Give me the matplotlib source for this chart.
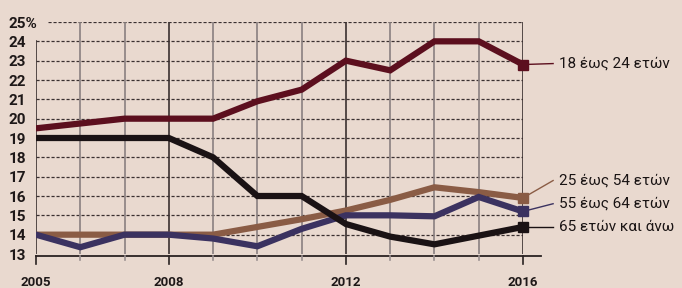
import matplotlib
matplotlib.use("Agg")
import matplotlib.pyplot as plt

years = list(range(2005, 2017))
s18_24 = [19.5, 19.75, 20.0, 20.0, 20.0, 20.9, 21.5, 23.0, 22.5, 24.0, 24.0, 22.8]
s25_54 = [14.0, 14.0, 14.0, 14.0, 14.0, 14.4, 14.8, 15.25, 15.8, 16.45, 16.2, 15.9]
s55_64 = [14.0, 13.35, 14.0, 14.0, 13.8, 13.4, 14.3, 15.0, 15.0, 14.95, 15.95, 15.2]
s65 = [19.0, 19.0, 19.0, 19.0, 18.0, 16.0, 16.0, 14.55, 13.9, 13.5, 13.95, 14.4]
series_labels = ["18 έως 24 ετών", "25 έως 54 ετών", "55 έως 64 ετών", "65 ετών και άνω"]
ytick_vals = list(range(13, 26))
ytick_labels = [str(v) for v in range(13, 25)] + ["25%"]
xtick_vals = [2005, 2008, 2012, 2016]
xtick_labels = ["2005", "2008", "2012", "2016"]

W, H = 682, 288
bg = "#e9d9cf"
fig = plt.figure(figsize=(W / 100, H / 100), dpi=100, facecolor=bg)
L, R, T, B = 36, 523, 22, 254
ax = fig.add_axes([L / W, 1 - B / H, (R - L) / W, (B - T) / H])
ax.set_facecolor(bg)
ax.set_xlim(2005, 2016)
ax.set_ylim(13, 25)
for s in ax.spines.values():
    s.set_visible(False)

fam = ["Roboto", "DejaVu Sans"]

# horizontal dashed grid
for v in ytick_vals[1:]:
    x0 = 2005.27 if v == 25 else 2005
    ax.plot([x0, 2016], [v, v], color="#3a3030", lw=0.9, ls=(0, (2.5, 1.5)), zorder=1)
# vertical grid
for y in years:
    top = 24 if y == 2005 else 25
    c = "#3a3030" if y in xtick_vals else "#8a8080"
    ax.plot([y, y], [12.9, top], color=c, lw=1.2, zorder=1)
# bottom axis line
ax.plot([2005, 2016.4], [12.9, 12.9], color="#2a2222", lw=1.3, zorder=2, clip_on=False)
for y in years:
    ext = 12.5 if y in xtick_vals else 12.7
    ax.plot([y, y], [12.9, ext], color="#2a2222" if y in xtick_vals else "#9a9090", lw=1.2, clip_on=False)

c18 = "#5c0f1e"
c25 = "#8a5c45"
c55 = "#3b3260"
c65 = "#1a1214"
lw = 4.5
ax.plot(years, s25_54, color=c25, lw=lw, zorder=3, solid_joinstyle="miter")
ax.plot(years, s55_64, color=c55, lw=lw, zorder=4, solid_joinstyle="miter")
ax.plot(years, s65, color=c65, lw=lw, zorder=5, solid_joinstyle="miter")
ax.plot(years, s18_24, color=c18, lw=lw, zorder=5, solid_joinstyle="miter")
for s, c in [(s18_24, c18), (s25_54, c25), (s55_64, c55), (s65, c65)]:
    ax.plot([years[-1]], [s[-1]], marker="s", ms=7, color=c, zorder=6, clip_on=False)

# labels with leader lines
label_y = [22.85, 16.8, 15.6, 14.4]
ends = [s18_24[-1], s25_54[-1], s55_64[-1], s65[-1]]
cols = [c18, c25, c55, c65]
for lab, ly, ey, c in zip(series_labels, label_y, ends, cols):
    ax.plot([2016, 2016.68], [ey, ly], color=c, lw=1.0, clip_on=False, zorder=6)
    ax.text(2016.82, ly, lab, fontsize=11, color="#1a1414", va="center", ha="left",
            family=fam, clip_on=False)

# y tick labels
ax.set_yticks(ytick_vals)
ax.set_yticklabels(ytick_labels, fontsize=11, fontweight="bold", color="#1e1818",
                   family=fam, ha="left")
ax.tick_params(axis="y", length=0, pad=20)
ax.set_xticks(xtick_vals)
ax.set_xticklabels(xtick_labels, fontsize=9.5, fontweight="bold", color="#1e1818", family=fam)
ax.tick_params(axis="x", length=0, pad=15.5)

fig.savefig("out.png", dpi=100, facecolor=bg)
